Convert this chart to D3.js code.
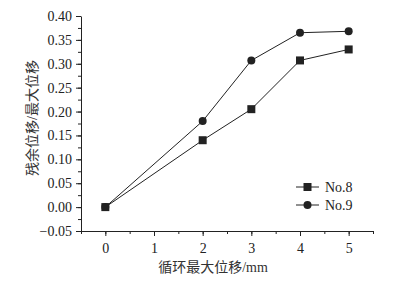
<!DOCTYPE html>
<html>
<head>
<meta charset="utf-8">
<script src="https://cdn.jsdelivr.net/npm/d3@7"></script>
<style>
  body { margin: 0; background: #fff; }
  svg text { font-family: "Liberation Serif", "Noto Sans CJK SC", serif; fill: #222; }
</style>
</head>
<body>
<svg id="chart" width="414" height="286"></svg>
<script>
// data
var xValues = [0, 2, 3, 4, 5]
var no8 = [0, 0.14, 0.205, 0.307, 0.33]
var no9 = [0, 0.18, 0.307, 0.365, 0.368]
var xTicks = [0, 1, 2, 3, 4, 5]
var yTicks = [-0.05, 0, 0.05, 0.10, 0.15, 0.20, 0.25, 0.30, 0.35, 0.40]
var seriesNames = ["No.8", "No.9"]

var svg = d3.select("#chart")
var ink = "#222"

var x = d3.scaleLinear().domain([-0.5, 5.5]).range([81, 373])
var y = d3.scaleLinear().domain([-0.05, 0.40]).range([231, 16])

// minor ticks first, then major ones
var xMinor = d3.range(-0.5, 5.51, 0.5)
svg.append("g")
  .attr("transform", "translate(0,231)")
  .call(d3.axisBottom(x).tickValues(xMinor).tickSize(3).tickFormat(""))
  .call(g => g.select(".domain").remove())
  .selectAll("line").attr("stroke", ink)

var xAxis = svg.append("g")
  .attr("transform", "translate(0,231)")
  .call(d3.axisBottom(x).tickValues(xTicks).tickSize(5).tickPadding(7).tickSizeOuter(0)
    .tickFormat(d3.format("d")))
xAxis.select(".domain").attr("stroke", ink)
xAxis.selectAll("line").attr("stroke", ink)
xAxis.selectAll("text").attr("font-size", 14).style("fill", ink)

var yMinor = d3.range(-0.05, 0.401, 0.025)
svg.append("g")
  .attr("transform", "translate(81,0)")
  .call(d3.axisLeft(y).tickValues(yMinor).tickSize(3).tickFormat(""))
  .call(g => g.select(".domain").remove())
  .selectAll("line").attr("stroke", ink)

var yAxis = svg.append("g")
  .attr("transform", "translate(81,0)")
  .call(d3.axisLeft(y).tickValues(yTicks).tickSize(5).tickPadding(4).tickSizeOuter(0)
    .tickFormat(d3.format(".2f")))
yAxis.select(".domain").attr("stroke", ink)
yAxis.selectAll("line").attr("stroke", ink)
yAxis.selectAll("text").attr("font-size", 14).style("fill", ink)

// axis titles
svg.append("text")
  .attr("x", 213).attr("y", 272)
  .attr("text-anchor", "middle")
  .attr("font-size", 14)
  .style("fill", "#333")
  .text("循环最大位移/mm")

svg.append("text")
  .attr("transform", "translate(37,118) rotate(-90)")
  .attr("text-anchor", "middle")
  .attr("font-size", 14)
  .style("fill", "#333")
  .text("残余位移/最大位移")

var line = d3.line()
  .x(function(d, i){ return x(xValues[i]) })
  .y(function(d){ return y(d) })

svg.append("path").datum(no8).attr("d", line)
  .attr("fill", "none").attr("stroke", ink).attr("stroke-width", 1)
svg.append("path").datum(no9).attr("d", line)
  .attr("fill", "none").attr("stroke", ink).attr("stroke-width", 1)

svg.selectAll(".sq").data(no8).enter().append("rect")
  .attr("x", function(d, i){ return x(xValues[i]) - 4 })
  .attr("y", function(d){ return y(d) - 4 })
  .attr("width", 8).attr("height", 8)
  .attr("fill", ink)

svg.selectAll(".dot").data(no9).enter().append("circle")
  .attr("cx", function(d, i){ return x(xValues[i]) })
  .attr("cy", function(d){ return y(d) })
  .attr("r", 4)
  .attr("fill", ink)

// legend
var legend = svg.append("g").attr("transform", "translate(296,187)")
seriesNames.forEach(function(name, i) {
  var g = legend.append("g").attr("transform", "translate(0," + (i * 18) + ")")
  g.append("line").attr("x1", 0).attr("x2", 23).attr("stroke", ink)
  if (i === 0) {
    g.append("rect").attr("x", 7.5).attr("y", -4).attr("width", 8).attr("height", 8).attr("fill", ink)
  } else {
    g.append("circle").attr("cx", 11.5).attr("cy", 0).attr("r", 4).attr("fill", ink)
  }
  g.append("text").attr("x", 29).attr("y", 5).attr("font-size", 14).text(name)
})
</script>
</body>
</html>
